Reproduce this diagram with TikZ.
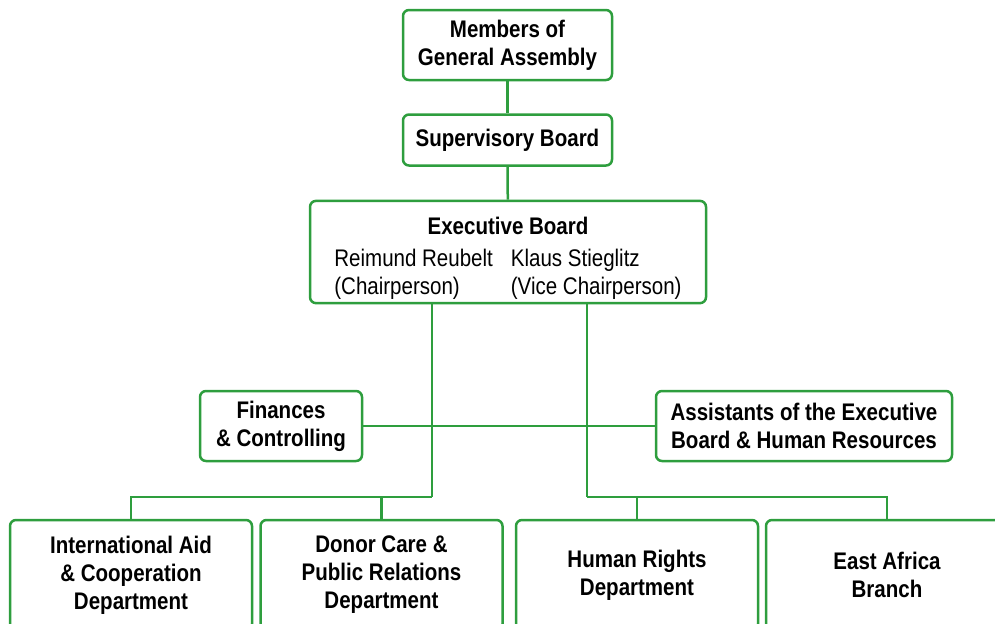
\documentclass[tikz,border=0pt]{standalone}
\usepackage{fontspec}
\setmainfont{Liberation Sans}[FakeStretch=0.855]
\usepackage{tikz}
\usetikzlibrary{positioning}

\definecolor{orggreen}{RGB}{46,158,62}

\begin{document}
\begin{tikzpicture}[x=0.5pt,y=-0.5pt,
        orgbox/.style={draw=orggreen,line width=1.25pt,rounded corners=3pt,fill=white,
            align=center,font=\fontsize{12}{14}\selectfont\bfseries,inner sep=0pt},
        deptbox/.style={orgbox,minimum width=121pt,minimum height=55pt},
        link/.style={draw=orggreen,line width=1.25pt}]
    \useasboundingbox (0,0) rectangle (995,623);
    % top of the chart
    \node[orgbox,minimum width=104.5pt,minimum height=35pt] (members) at (507.5,45) {Members of\\General Assembly};
    \node[orgbox,minimum width=104.5pt,minimum height=25.5pt] (super) at (507.5,140) {Supervisory Board};
    \node[orgbox,minimum width=198pt,minimum height=50pt] (exec) at (508,252)
        {\rule{0pt}{17pt}Executive Board\\[5pt]
         \mdseries\begin{tabular}{@{}l@{\hspace{9pt}}l@{}}
            Reimund Reubelt & Klaus Stieglitz\\
            (Chairperson) & (Vice Chairperson)
         \end{tabular}};
    % staff units
    \node[orgbox,minimum width=81pt,minimum height=35pt] (fin) at (281,426) {Finances\\\& Controlling};
    \node[orgbox,minimum width=148pt,minimum height=35pt] (assist) at (804,426) {Assistants of the Executive\\Board \& Human Resources};
    % departments
    \node[deptbox] (intl) at (131,575) {International Aid\\\& Cooperation\\Department};
    \node[deptbox] (donor) at (381.5,575) {Donor Care \&\\Public Relations\\Department};
    \node[deptbox] (human) at (637,575) {Human Rights\\Department};
    \node[deptbox] (east) at (887,575) {East Africa\\Branch};
    \coordinate (lbus) at (432,497);
    \coordinate (rbus) at (587,497);

    \path[link] (members) -- (super);
    \path[link] (super) -- (exec);
    \path[link] (fin.east) -- (assist.west);
    \path[link] (exec.south -| lbus) -- (lbus);
    \path[link] (exec.south -| rbus) -- (rbus);
    \path[link] (intl.north) |- (lbus);
    \path[link] (donor.north) -- (donor.north |- lbus);
    \path[link] (east.north) |- (rbus);
    \path[link] (human.north) -- (human.north |- rbus);
\end{tikzpicture}
\end{document}
